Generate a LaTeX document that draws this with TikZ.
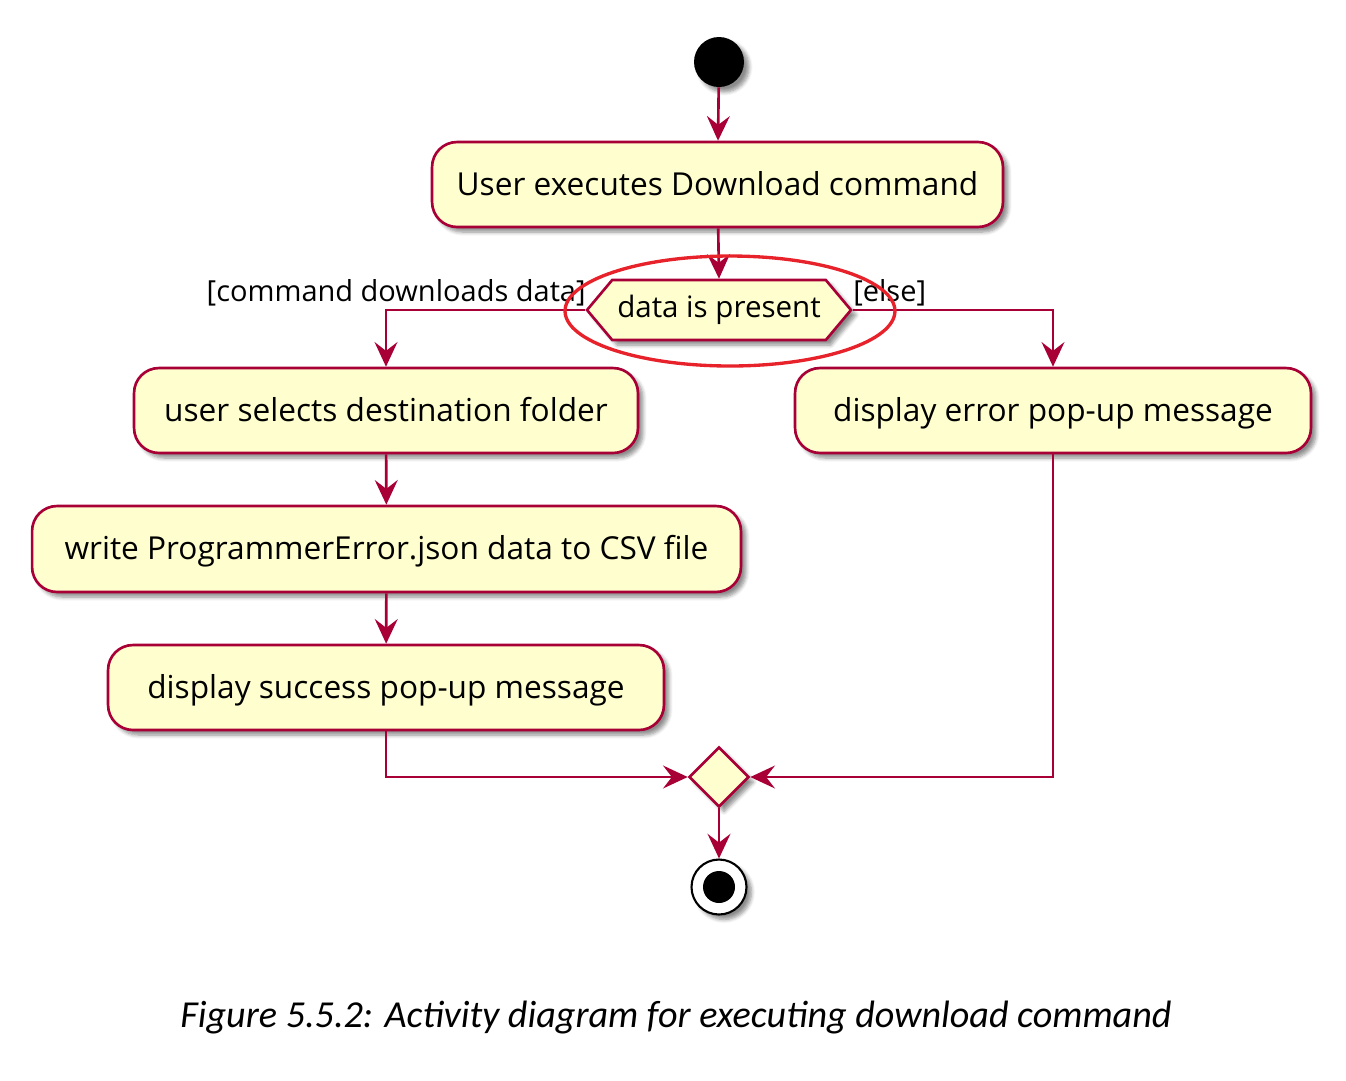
\documentclass[tikz,border=0pt]{standalone}
\usepackage{fontspec}
\setmainfont{Open Sans}
\newfontfamily\capfont{Carlito}
\usetikzlibrary{arrows.meta,shapes.geometric,shapes.symbols,shadows.blur}
\definecolor{umlfill}{HTML}{FEFECE}
\definecolor{umlline}{HTML}{A80036}
\definecolor{annred}{HTML}{E8222A}
\tikzset{
  shd/.style={blur shadow={shadow xshift=0.1cm,shadow yshift=-0.1cm,shadow blur steps=6,shadow opacity=45}},
  actbox/.style={draw=umlline,fill=umlfill,line width=1.5pt,rounded corners=0.5cm,shd,
     minimum height=1.7cm,inner sep=0pt,text height=16.5pt,text depth=4pt,font=\fontsize{18}{21}\selectfont},
  arr/.style={draw=umlline,line width=1.5pt,-{Stealth[length=14pt,width=13pt,inset=5pt]}},
  guard/.style={inner sep=0pt,font=\fontsize{16.5}{19}\selectfont},
}
\begin{document}
\begin{tikzpicture}[x=0.02cm,y=-0.02cm]
\useasboundingbox (0,0) rectangle (1346,1080);
\node[circle,fill=black,minimum size=1.0cm,inner sep=0pt,shd] (start) at (719,62) {};
\node[actbox,minimum width=11.42cm] (b1) at (717.5,184.5) {User executes Download command};
\node[signal,signal to=west and east,signal pointer angle=100,draw=umlline,fill=umlfill,line width=1.5pt,shd,
      minimum width=5.28cm,minimum height=1.2cm,inner sep=0pt,font=\fontsize{16.8}{19}\selectfont] (dec) at (719,310) {data is present};
\node[actbox,minimum width=10.08cm] (b2) at (386,410.5) {user selects destination folder};
\node[actbox,minimum width=10.32cm] (be) at (1053,410.5) {display error pop-up message};
\node[actbox,minimum width=14.18cm,minimum height=1.72cm] (b3) at (386.5,549) {write ProgrammerError.json data to CSV file};
\node[actbox,minimum width=11.12cm] (b4) at (386,687.5) {display success pop-up message};
\node[diamond,draw=umlline,fill=umlfill,line width=1.5pt,shd,minimum width=1.2cm,minimum height=1.2cm,inner sep=0pt] (merge) at (719,777) {};
\node[circle,draw=black,fill=white,line width=1.2pt,minimum size=1.1cm,inner sep=0pt,shd] (end) at (719,887) {};
\node[circle,fill=black,minimum size=0.64cm,inner sep=0pt] (endin) at (end) {};
\draw[arr] (start) -- (b1);
\draw[arr] (b1) -- (dec.north);
\draw[arr] (dec.west) -| (b2.north);
\draw[arr] (dec.east) -| (be.north);
\draw[arr] (b2) -- (b3);
\draw[arr] (b3) -- (b4);
\draw[arr] (b4.south) |- (merge.west);
\draw[arr] (be.south) |- (merge.east);
\draw[arr] (merge) -- (end);
\node[guard,anchor=east] (gl) at (586,293) {[command downloads data]};
\node[guard,anchor=west] (gr) at (853,293) {[else]};
\draw[annred,line width=1.9pt] (730,311) ellipse [x radius=3.3cm,y radius=1.1cm];
\node[font=\capfont\itshape\fontsize{21.7}{26}\selectfont] (cap) at (676,1018) {Figure 5.5.2: Activity diagram for executing download command};
\end{tikzpicture}
\end{document}
